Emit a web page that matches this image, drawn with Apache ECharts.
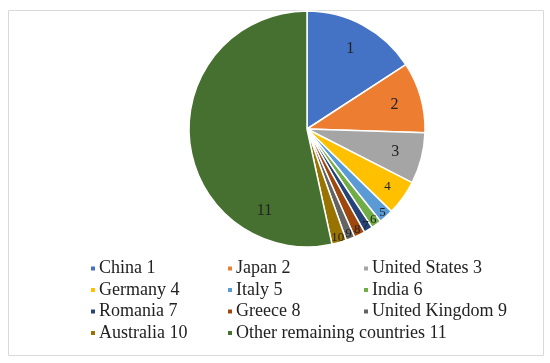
<!DOCTYPE html>
<html>
<head>
<meta charset="utf-8">
<script src="https://cdn.jsdelivr.net/npm/echarts@6/dist/echarts.min.js"></script>
<style>
  html, body { margin: 0; padding: 0; background: #fff; }
  #chart { width: 550px; height: 363px; }
</style>
</head>
<body>
<div id="chart"></div>
<script>
// share of each country (percent)
const countries = ['China', 'Japan', 'United States', 'Germany', 'Italy', 'India',
  'Romania', 'Greece', 'United Kingdom', 'Australia', 'Other remaining countries'];
const shares = [15.8, 9.7, 7.0, 4.8, 2.0, 1.4, 1.2, 1.5, 1.2, 2.0, 53.4];
const colors = ['#4472C4', '#ED7D31', '#A5A5A5', '#FFC000', '#5B9BD5', '#70AD47',
  '#264478', '#9E480E', '#636363', '#997300', '#467030'];
// legend columns (indexes into countries)
const legendCols = [[0, 3, 6, 9], [1, 4, 7, 10], [2, 5, 8]];

const names = countries.map((c, i) => c + ' ' + (i + 1));
const pieData = names.map((n, i) => ({ name: n, value: shares[i], itemStyle: { color: colors[i] } }));

const chart = echarts.init(document.getElementById('chart'));
const cx = 307, cy = 129, R = 118;

// transparent rings that only carry the number labels, one ring per label distance
const rings = [
  { r0: 58, idx: [0, 1, 2, 10], size: 16 },
  { r0: 74, idx: [3], size: 13 },
  { r0: 101, idx: [4, 5, 6, 7, 8, 9], size: 13 }
];
function labelRing(ring) {
  return {
    type: 'pie',
    center: [cx, cy],
    radius: [ring.r0, R],
    silent: true,
    startAngle: 90,
    itemStyle: { color: 'transparent', borderWidth: 0 },
    label: { show: false },
    labelLine: { show: false },
    emphasis: { disabled: true },
    data: names.map((n, i) => ({
      name: n,
      value: shares[i],
      label: {
        show: ring.idx.includes(i),
        position: 'inside',
        formatter: String(i + 1),
        color: '#222',
        fontFamily: 'Liberation Serif',
        fontSize: ring.size,
        // the big "other" label sits low in its slice
        offset: i === 10 ? [48, 72] : [0, 0]
      }
    }))
  };
}

const option = {
  animation: false,
  graphic: [{
    type: 'rect',
    shape: { x: 8.5, y: 10.5, width: 535, height: 345 },
    style: { fill: 'none', stroke: '#d9d9d9', lineWidth: 1 }
  }],
  legend: legendCols.map((col, k) => ({
    orient: 'vertical',
    left: [84, 221, 357][k],
    top: 253,
    itemWidth: 6,
    itemHeight: 6,
    itemGap: 0.5,
    icon: 'rect',
    selectedMode: false,
    data: col.map(i => names[i]),
    textStyle: { fontFamily: 'Liberation Serif', fontSize: 18, color: '#222', lineHeight: 21, padding: [0, 0, 0, -2] }
  })),
  series: [
    {
      type: 'pie',
      center: [cx, cy],
      radius: [0, R],
      startAngle: 90,
      label: { show: false },
      labelLine: { show: false },
      itemStyle: { borderColor: '#fff', borderWidth: 1.5 },
      emphasis: { disabled: true },
      data: pieData
    }
  ].concat(rings.map(labelRing))
};
chart.setOption(option);
</script>
</body>
</html>
